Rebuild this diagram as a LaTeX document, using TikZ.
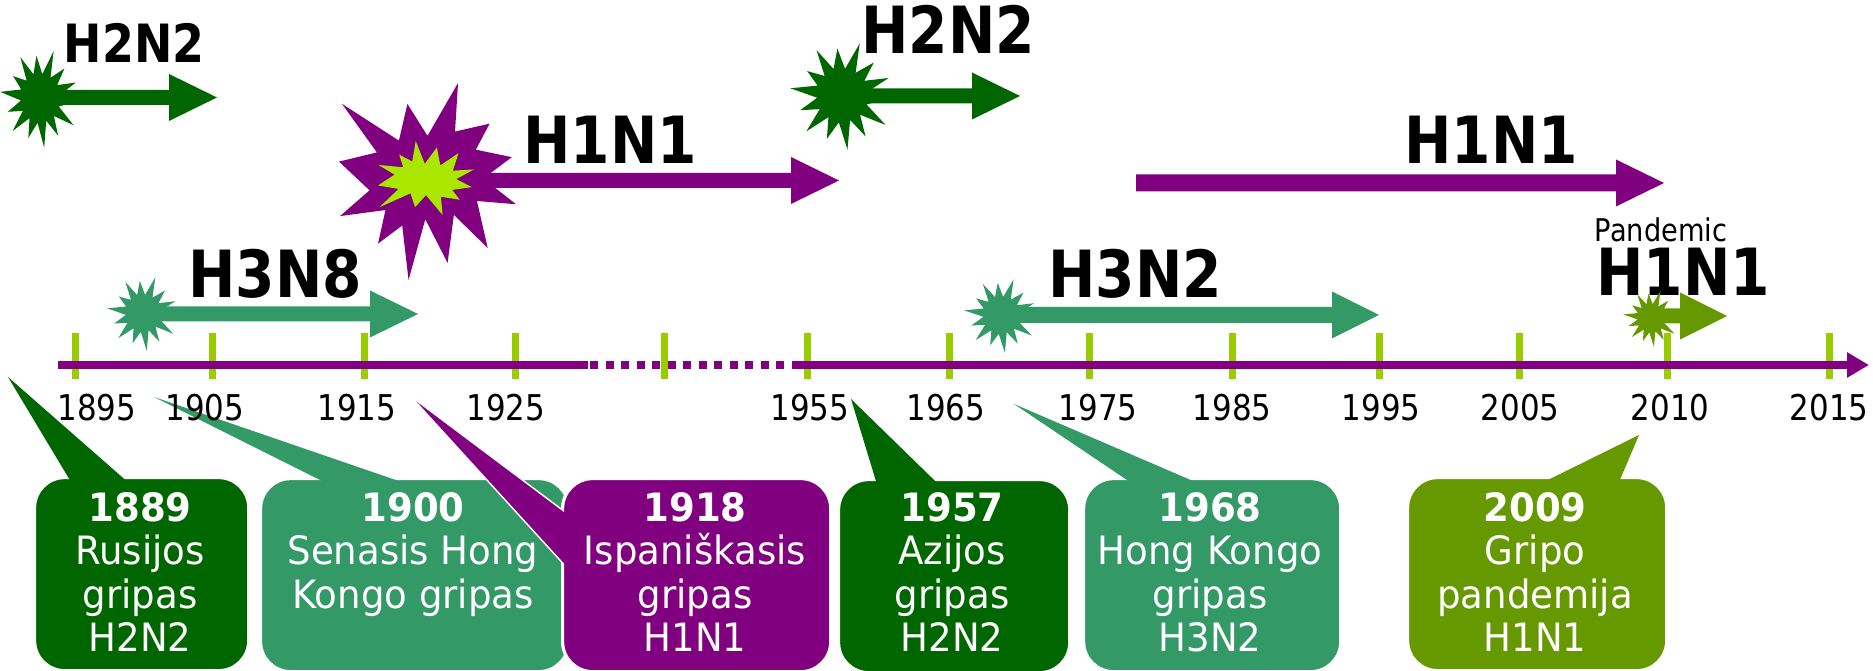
\documentclass[tikz,border=0pt]{standalone}
\usepackage{fontspec}
\setmainfont[FakeStretch=0.95]{DejaVu Sans}
\newfontfamily\narrowfont[FakeStretch=0.87]{DejaVu Sans}
\usetikzlibrary{arrows.meta,calc}
\definecolor{FluGreen}{RGB}{0,102,0}
\definecolor{FluSea}{RGB}{51,153,102}
\definecolor{FluPurple}{RGB}{128,0,128}
\definecolor{FluOlive}{RGB}{102,153,0}
\definecolor{TickLime}{RGB}{153,204,0}
\definecolor{BurstLime}{RGB}{170,230,0}
\tikzset{
  yeartick/.style={TickLime,line width=0.07cm},
  timeaxis/.style={FluPurple,line width=0.08cm},
  yearlabel/.style={font=\narrowfont\fontsize{10.1}{12}\selectfont,anchor=base,inner sep=0pt},
  strain/.style={font=\narrowfont\bfseries\fontsize{18.5}{20}\selectfont,anchor=base,inner sep=0pt},
  callout/.style={rounded corners=0.3cm,draw=white,line width=0.9pt,
    minimum height=1.93cm,anchor=north west,inner sep=0pt},
  calltext/.style={font=\fontsize{11.1}{12.3}\selectfont,text=white,align=center,
    anchor=north,inner sep=0pt}
}
\newcommand\blastpath{(0,-0.463) -- (0.345,-1) -- (0.311,-0.507) -- (0.702,-0.587)
  -- (0.546,-0.323) -- (0.953,-0.247) -- (0.630,-0.030) -- (1,0.231) -- (0.559,0.198)
  -- (0.680,0.675) -- (0.298,0.339) -- (0.227,0.827) -- (-0.025,0.383) -- (-0.214,1)
  -- (-0.286,0.447) -- (-0.559,0.631) -- (-0.475,0.290) -- (-0.988,0.351)
  -- (-0.655,0.090) -- (-1,-0.202) -- (-0.572,-0.295) -- (-0.966,-0.788)
  -- (-0.323,-0.415) -- (-0.227,-0.788) -- cycle}
\newcommand\sparkpath{(-70:1) -- (-57:.48) -- (-44:.85) -- (-31:.5) -- (-19:.95)
  -- (-6:.48) -- (7:.8) -- (20:.5) -- (33:1) -- (46:.5) -- (59:.88) -- (71:.48)
  -- (84:1) -- (97:.5) -- (110:.85) -- (123:.48) -- (136:.95) -- (149:.5)
  -- (161:.85) -- (174:.48) -- (187:1) -- (200:.5) -- (213:.8) -- (226:.48)
  -- (239:.95) -- (251:.5) -- (264:.85) -- (277:.48) -- cycle}
\newcommand\strainarrow[6]{%
  \fill[#6] (#1,#4-#5) -- (#2,#4-#5) -- (#2,#4-23.5) -- (#3,#4) -- (#2,#4+23.5)
    -- (#2,#4+#5) -- (#1,#4+#5) -- cycle;}

\begin{document}
\begin{tikzpicture}[x=0.01cm,y=-0.01cm]
  \useasboundingbox (0,0) rectangle (1873,671);

  % callouts
  \coordinate (p1889) at (8,377);
  \fill[FluGreen,draw=white,line width=0.9pt] (p1889) -- (68,477) -- (122,477) -- cycle;
  \node[callout,fill=FluGreen,minimum width=2.14cm] (b1889) at (33,476) {};
  \fill[FluGreen] (p1889) -- ($(p1889)!1.1!(68,477)$) -- ($(p1889)!1.1!(122,477)$) -- cycle;
  \node[calltext] (t1889) at (140,492) {\textbf{1889}\\Rusijos\\gripas\\H2N2};

  \coordinate (p1900) at (154,397);
  \fill[FluSea,draw=white,line width=0.9pt] (p1900) -- (314,477) -- (387,477) -- cycle;
  \node[callout,fill=FluSea,minimum width=3.08cm] (b1900) at (259,477) {};
  \fill[FluSea] (p1900) -- ($(p1900)!1.1!(314,477)$) -- ($(p1900)!1.1!(387,477)$) -- cycle;
  \node[calltext] (t1900) at (413,492) {\textbf{1900}\\Senasis Hong\\Kongo gripas};

  \coordinate (p1918) at (417,402);
  \fill[FluPurple,draw=white,line width=0.9pt] (p1918) -- (561,510) -- (561,560) -- cycle;
  \node[callout,fill=FluPurple,minimum width=2.68cm] (b1918) at (561,477) {};
  \fill[FluPurple] (p1918) -- ($(p1918)!1.1!(561,510)$) -- ($(p1918)!1.1!(561,560)$) -- cycle;
  \node[calltext] (t1918) at (695,492) {\textbf{1918}\\Ispaniškasis\\gripas\\H1N1};

  \coordinate (p1957) at (851,399);
  \fill[FluGreen,draw=white,line width=0.9pt] (p1957) -- (875,478) -- (932,478) -- cycle;
  \node[callout,fill=FluGreen,minimum width=2.31cm] (b1957) at (837,478) {};
  \fill[FluGreen] (p1957) -- ($(p1957)!1.1!(875,478)$) -- ($(p1957)!1.1!(932,478)$) -- cycle;
  \node[calltext] (t1957) at (952,492) {\textbf{1957}\\Azijos\\gripas\\H2N2};

  \coordinate (p1968) at (1014,404);
  \fill[FluSea,draw=white,line width=0.9pt] (p1968) -- (1124,478) -- (1186,478) -- cycle;
  \node[callout,fill=FluSea,minimum width=2.57cm] (b1968) at (1082,477) {};
  \fill[FluSea] (p1968) -- ($(p1968)!1.1!(1124,478)$) -- ($(p1968)!1.1!(1186,478)$) -- cycle;
  \node[calltext] (t1968) at (1210,492) {\textbf{1968}\\Hong Kongo\\gripas\\H3N2};

  \coordinate (p2009) at (1639,435);
  \fill[FluOlive,draw=white,line width=0.9pt] (p2009) -- (1558,475) -- (1622,475) -- cycle;
  \node[callout,fill=FluOlive,minimum width=2.59cm] (b2009) at (1406,476) {};
  \fill[FluOlive] (p2009) -- ($(p2009)!1.15!(1558,475)$) -- ($(p2009)!1.15!(1622,475)$) -- cycle;
  \node[calltext] (t2009) at (1535,492) {\textbf{2009}\\Gripo\\pandemija\\H1N1};

  % time axis
  \foreach \x in {75.5,212,364,515,664,807,949,1089,1232,1379,1519,1667,1829}
    \draw[yeartick] (\x,333) -- (\x,379);
  \coordinate (axisstart) at (58,365);
  \coordinate (gapstart) at (588,365);
  \coordinate (gapend) at (798,365);
  \coordinate (axisend) at (1869,365);
  \draw[timeaxis] (axisstart) -- (gapstart);
  \draw[timeaxis,dash pattern=on 0.08cm off 0.075cm] ($(gapstart)+(2,0)$) -- (gapend);
  \draw[timeaxis,-{Triangle[length=0.22cm,width=0.24cm]}] (gapend) -- (axisend);
  \foreach \x/\yr in {97/1895,205/1905,357/1915,506/1925,810/1955,946/1965,
      1098/1975,1232/1985,1381/1995,1520/2005,1670/2010,1829/2015}
    \node[yearlabel] (y\yr) at (\x,421) {\yr};

  % strains
  \node[strain,font=\narrowfont\bfseries\fontsize{15}{17}\selectfont] (s1889) at (134,63) {H2N2};
  \node[strain] (s1900) at (275,298) {H3N8};
  \node[strain] (s1918) at (610,164) {H1N1};
  \node[strain] (s1957) at (948,54) {H2N2};
  \node[strain] (s1977) at (1491,164) {H1N1};
  \node[strain] (s1968) at (1135,298) {H3N2};
  \node[yearlabel,font=\narrowfont\fontsize{8.9}{10}\selectfont] (pand) at (1661,242) {Pandemic};
  \node[strain] (s2009) at (1683,296) {H1N1};

  \strainarrow{40}{169}{217}{97.5}{7.5}{FluGreen}
  \fill[FluGreen,shift={(40,98)},xscale=40,yscale=50] \sparkpath;
  \strainarrow{143}{370}{418}{314}{7.5}{FluSea}
  \fill[FluSea,shift={(143,313)},xscale=36,yscale=38] \sparkpath;
  \strainarrow{427}{791}{839}{180.5}{7.5}{FluPurple}
  \fill[FluPurple,shift={(427.5,181.5)},xscale=88.5,yscale=98.5] \blastpath;
  \fill[BurstLime,shift={(426,178)},xscale=48,yscale=-37] \blastpath;
  \strainarrow{842}{972}{1020}{96}{7.5}{FluGreen}
  \fill[FluGreen,shift={(842,95)},xscale=52,yscale=55] \sparkpath;
  \strainarrow{1136}{1616}{1664}{183}{8.5}{FluPurple}
  \strainarrow{1001}{1332}{1379}{315}{8}{FluSea}
  \fill[FluSea,shift={(1001,315)},xscale=37,yscale=38] \sparkpath;
  \strainarrow{1651}{1680}{1727}{316}{7.5}{FluOlive}
  \fill[FluOlive,shift={(1651,318)},xscale=28,yscale=29] \sparkpath;
\end{tikzpicture}
\end{document}
